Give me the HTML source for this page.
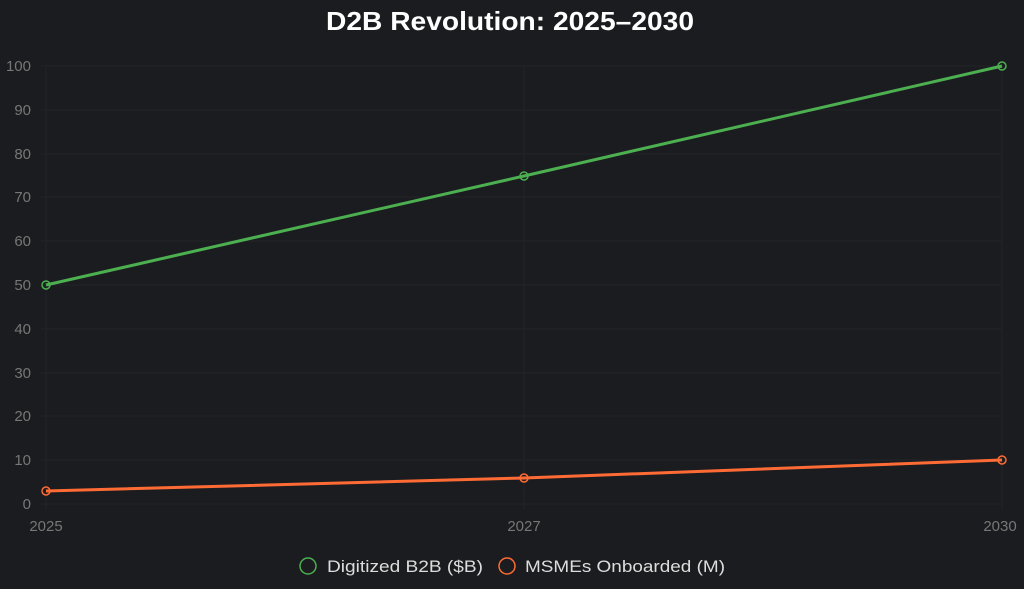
<!DOCTYPE html>
<html><head><style>
body{margin:0;background:#1b1c1f;}
svg{display:block;font-family:"Liberation Sans",Arial,sans-serif;}
</style></head><body>
<svg width="1024" height="589" viewBox="0 0 1024 589">
<rect width="1024" height="589" fill="#1b1c1f"/>
<text x="326" y="30" textLength="368" lengthAdjust="spacingAndGlyphs" fill="#ffffff" font-size="26" font-weight="bold">D2B Revolution: 2025–2030</text>
<g stroke="#222327" stroke-width="1">
<line x1="41" y1="66" x2="1002" y2="66"/><line x1="41" y1="110" x2="1002" y2="110"/>
<line x1="41" y1="154" x2="1002" y2="154"/><line x1="41" y1="197" x2="1002" y2="197"/>
<line x1="41" y1="241" x2="1002" y2="241"/><line x1="41" y1="285" x2="1002" y2="285"/>
<line x1="41" y1="329" x2="1002" y2="329"/><line x1="41" y1="373" x2="1002" y2="373"/>
<line x1="41" y1="416" x2="1002" y2="416"/><line x1="41" y1="460" x2="1002" y2="460"/>
<line x1="41" y1="504" x2="1002" y2="504"/>
<line x1="46" y1="66" x2="46" y2="509"/><line x1="524" y1="66" x2="524" y2="509"/><line x1="1002" y1="66" x2="1002" y2="509"/>
</g>
<g fill="#777" font-size="15" text-anchor="end">
<text x="31" y="71">100</text><text x="31" y="115">90</text><text x="31" y="159">80</text>
<text x="31" y="202">70</text><text x="31" y="246">60</text><text x="31" y="290">50</text>
<text x="31" y="334">40</text><text x="31" y="378">30</text><text x="31" y="421">20</text>
<text x="31" y="465">10</text><text x="31" y="509">0</text>
</g>
<g fill="#777" font-size="15" text-anchor="middle">
<text x="46" y="531">2025</text><text x="524" y="531">2027</text><text x="1000" y="531">2030</text>
</g>
<polyline points="46,285 524,176 1002,66" fill="none" stroke="#4caf50" stroke-width="3"/>
<g fill="none" stroke="#4caf50" stroke-width="1.5"><circle cx="46" cy="285" r="4"/><circle cx="524" cy="176" r="4"/><circle cx="1002" cy="66" r="4"/></g>
<polyline points="46,491 524,478 1002,460" fill="none" stroke="#ff6b35" stroke-width="3"/>
<g fill="none" stroke="#ff6b35" stroke-width="1.5"><circle cx="46" cy="491" r="4"/><circle cx="524" cy="478" r="4"/><circle cx="1002" cy="460" r="4"/></g>
<circle cx="308" cy="566" r="8" fill="none" stroke="#4caf50" stroke-width="1.5"/>
<text x="327" y="572" textLength="156" lengthAdjust="spacingAndGlyphs" fill="#ddd" font-size="17">Digitized B2B ($B)</text>
<circle cx="507" cy="566" r="8" fill="none" stroke="#ff6b35" stroke-width="1.5"/>
<text x="525" y="572" textLength="200" lengthAdjust="spacingAndGlyphs" fill="#ddd" font-size="17">MSMEs Onboarded (M)</text>
</svg>
</body></html>
